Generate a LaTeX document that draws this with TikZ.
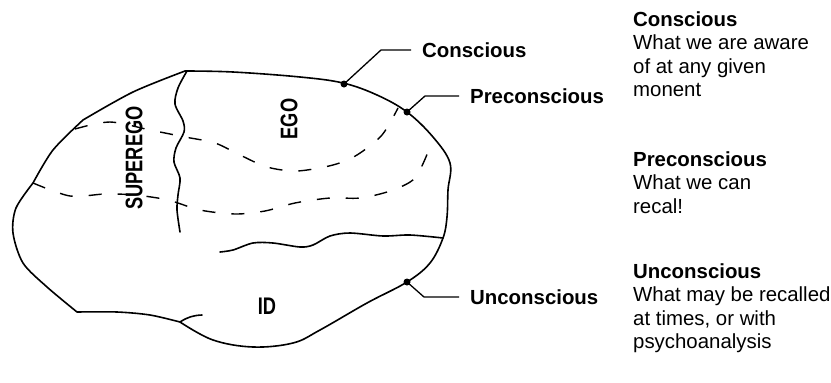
\documentclass[tikz,border=0pt]{standalone}
\usepackage{fontspec}
\setmainfont{Liberation Sans}
\newfontfamily\condfont[FakeStretch=0.76]{Liberation Sans}
\usetikzlibrary{positioning}
\tikzset{outline/.style = {line width=1.6pt, line join=round, line cap=round}}
\tikzset{border/.style = {line width=1.4pt, dash pattern=on 13pt off 16pt}}
\tikzset{leader/.style = {line width=1.3pt}}
\tikzset{dot/.style = {fill, circle, inner sep = 0, minimum size = 7}}
\tikzset{layer/.style = {font=\fontsize{20.4}{24}\selectfont\bfseries,
                         inner xsep=11pt, inner ysep=0pt, anchor=west}}
\tikzset{region/.style = {font=\condfont\fontsize{24}{28}\selectfont\bfseries,
                          inner sep=0pt}}
\tikzset{note/.style = {font=\fontsize{20.4}{23.5}\selectfont, align=left,
                        inner sep=0pt, anchor=base west}}

\begin{document}
\begin{tikzpicture}[x=1pt,y=-1pt]
      \useasboundingbox (0,0) rectangle (831,383);

      % the mind
      \draw[outline] (185,71)
        -- plot[smooth, tension=0.6] coordinates {(185,71) (233,72) (300,77)
             (343,83) (377,95) (407,112) (433,137) (450,163) (448,190)
             (447,217) (443,238) (430,263) (407,282) (367,303) (320,330)
             (293,343) (253,347) (213,340) (180,322)}
        -- plot[smooth] coordinates {(180,322) (150,315) (117,312) (77,312)}
        -- plot[smooth] coordinates {(77,312) (47,287) (23,263) (13,233)
             (16,208) (33,183)}
        -- plot[smooth] coordinates {(33,183) (53,150) (83,120)}
        -- plot[smooth] coordinates {(83,120) (133,92) (185,71)}
        -- cycle;
      \draw[outline] (180,322) to[bend left=15] (202,315);

      % superego / ego / id
      \draw[outline] plot[smooth] coordinates {(187,71) (178,88) (175,104)
          (183,121) (184,132) (176,148) (174,162) (180,178) (178,195)
          (177,210) (180,232)};
      \draw[outline] plot[smooth] coordinates {(220,252) (233,250) (253,243)
          (273,243) (300,247) (313,245) (330,236) (350,233) (383,236)
          (410,235) (443,238)};

      % layer borders
      \draw[border] plot[smooth] coordinates {(75,129) (110,122) (150,130)
          (185,137) (215,143) (240,155) (267,167) (297,171) (333,165)
          (357,155) (382,135) (398,108)};
      \draw[border] plot[smooth] coordinates {(33,183) (70,196) (105,194)
          (135,195) (168,200) (200,210) (235,214) (265,211) (295,203)
          (330,198) (360,198) (390,191) (415,178) (430,147)};

      \node[region, rotate=90] (superego) at (134,158) {SUPEREGO};
      \node[region, rotate=90] (ego) at (289,119) {EGO};
      \node[region] (id) at (267,306) {ID};

      % pointers
      \node[dot] (cdot) at (344,84) {};
      \node[dot] (pdot) at (407,112) {};
      \node[dot] (udot) at (407,282) {};
      \coordinate (cbend) at (381,50);
      \coordinate (pbend) at (425,96);
      \coordinate (ubend) at (424,297);
      \node[layer] (conslab) at (411,50) {Conscious};
      \node[layer] (prelab) at (459,96) {Preconscious};
      \node[layer] (unclab) at (459,297) {Unconscious};
      \draw[leader] (cdot.center) -- (cbend) -- (conslab.west);
      \draw[leader] (pdot.center) -- (pbend) -- (prelab.west);
      \draw[leader] (udot.center) -- (ubend) -- (unclab.west);

      % key (anchored at the last line)
      \node[note] (conskey) at (633,96.5)
        {\textbf{Conscious}\\What we are aware\\of at any given\\monent};
      \node[note] (prekey) at (633,213)
        {\textbf{Preconscious}\\What we can\\recal!};
      \node[note] (unckey) at (633,348.5)
        {\textbf{Unconscious}\\What may be recalled\\at times, or with\\psychoanalysis};
\end{tikzpicture}
\end{document}
